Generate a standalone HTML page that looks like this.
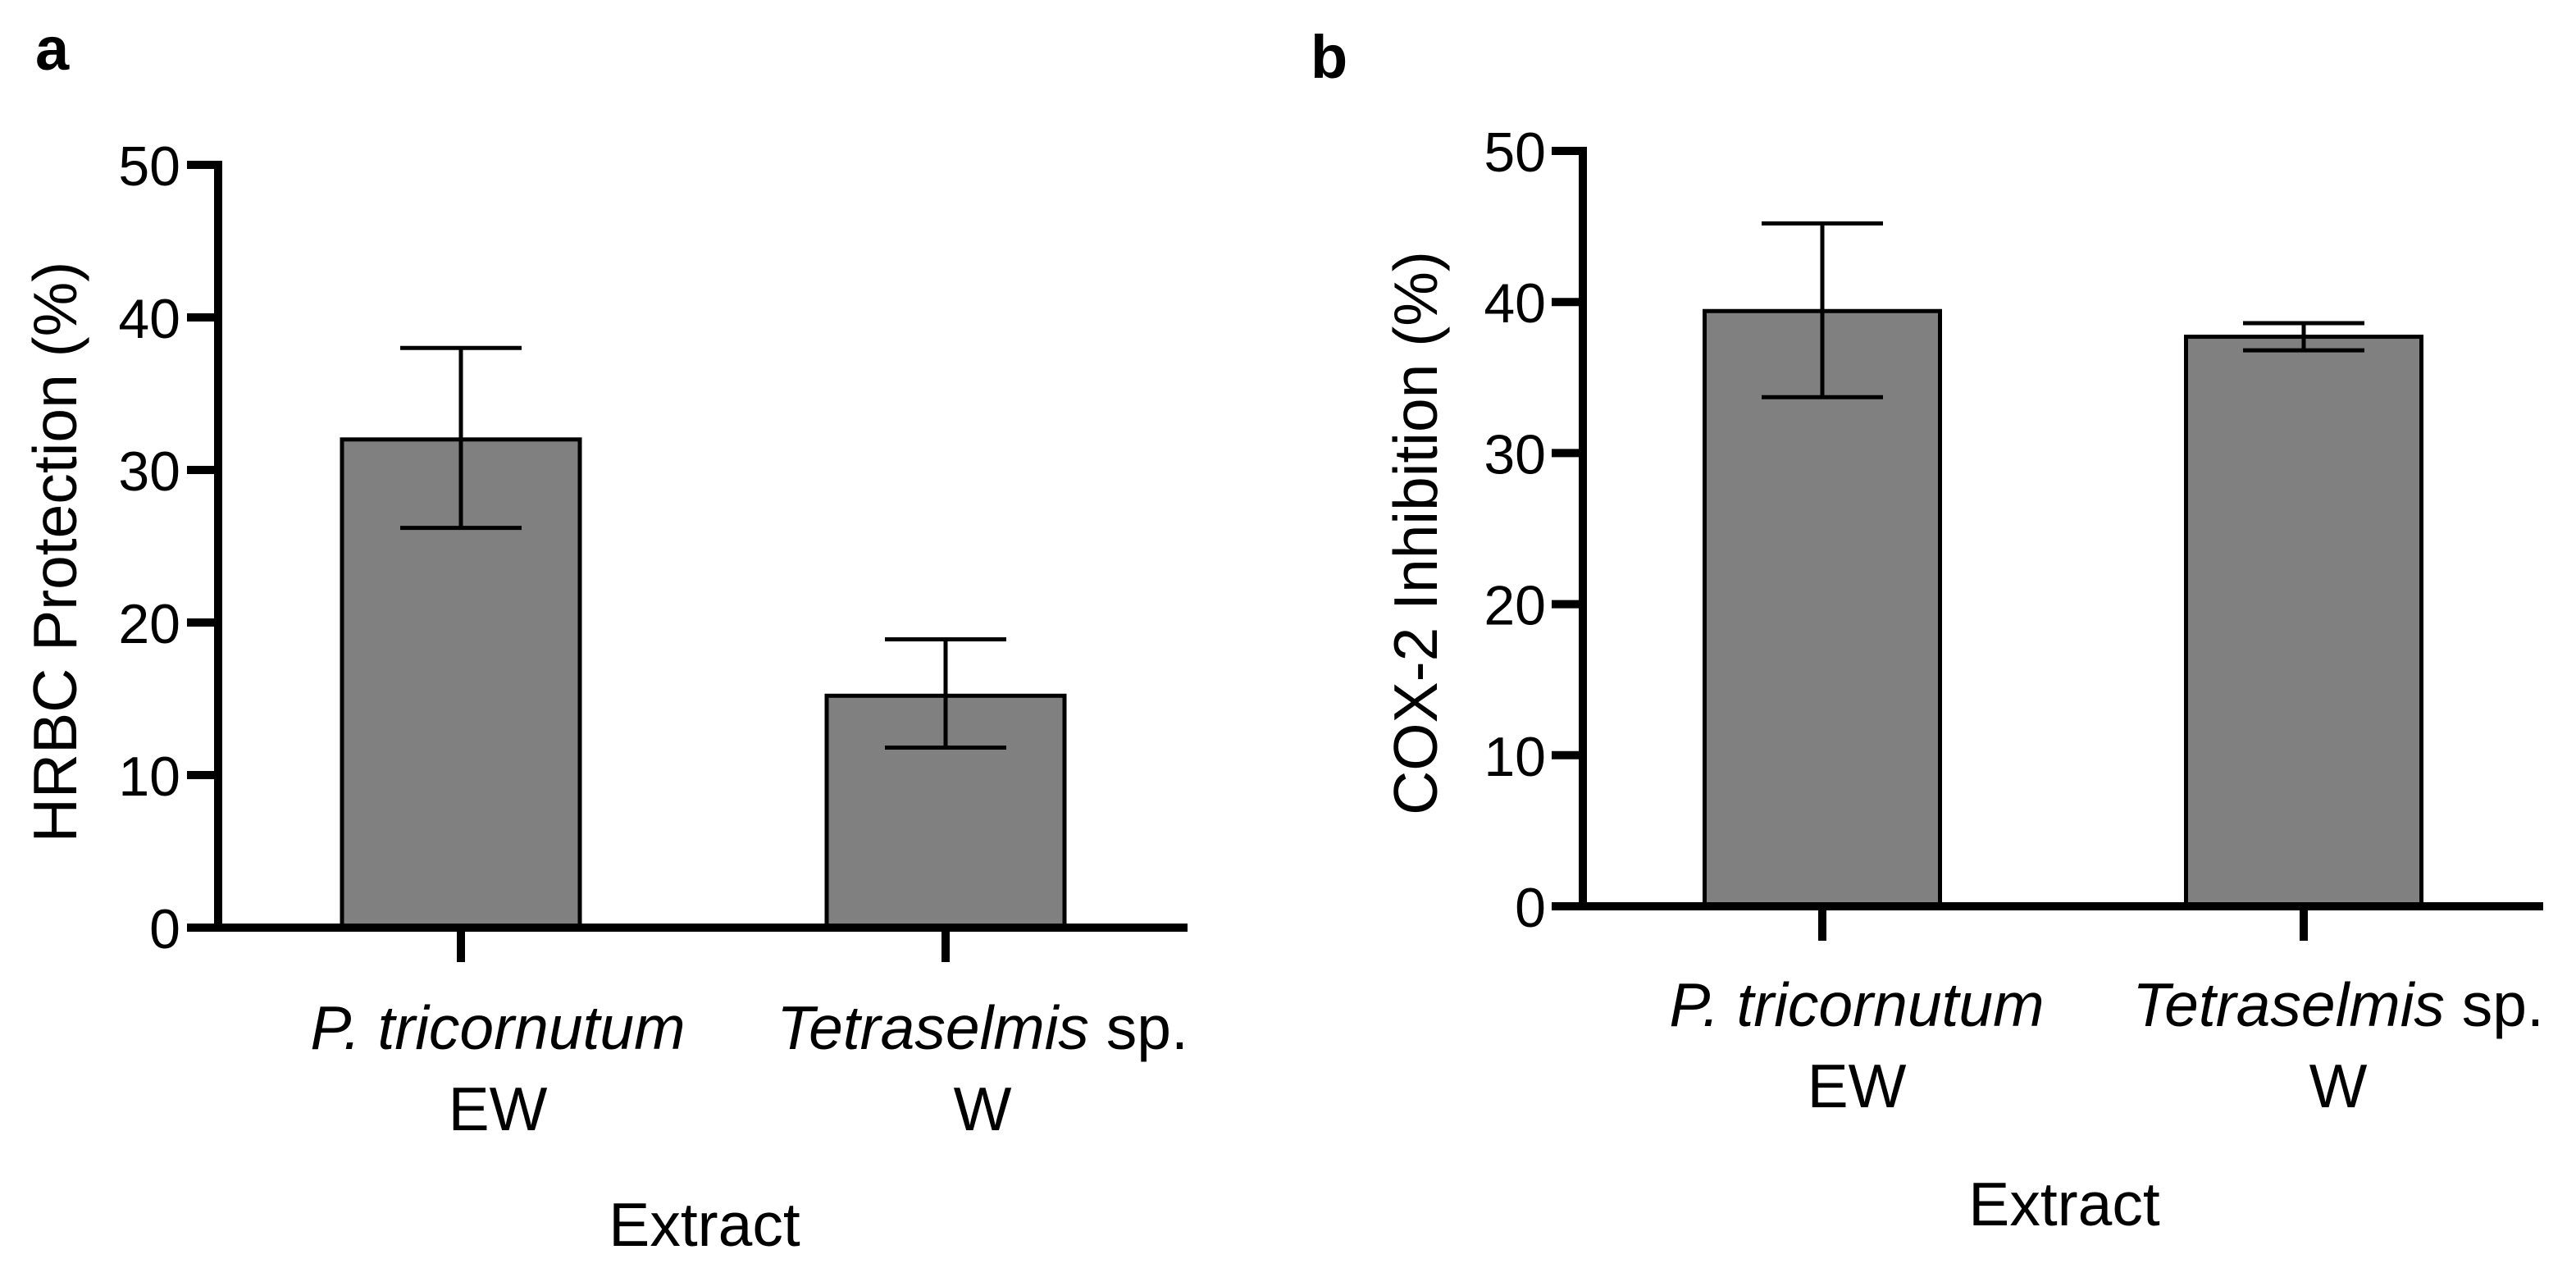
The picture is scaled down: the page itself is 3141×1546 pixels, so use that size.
<!DOCTYPE html>
<html><head><meta charset="utf-8">
<style>
html,body{margin:0;padding:0;background:#fff;}
svg{display:block;font-family:"Liberation Sans",Arial,sans-serif;}
</style></head>
<body>
<svg id="fig" width="3141" height="1546" viewBox="0 0 3141 1546" xmlns="http://www.w3.org/2000/svg">
<rect width="3141" height="1546" fill="#fff"/>
<text x="43" y="85" font-size="74" font-weight="bold">a</text>
<text x="1598" y="95" font-size="74" font-weight="bold">b</text>
</svg>
<script>
const categories = ["P. tricornutum|EW", "Tetraselmis sp.|W"];
const yTicks = [0, 10, 20, 30, 40, 50];
const hrbcMeans = [32.0, 15.2];
const hrbcErrUpper = [38.0, 18.9];
const hrbcErrLower = [26.2, 11.8];
const coxMeans = [39.4, 37.7];
const coxErrUpper = [45.2, 38.6];
const coxErrLower = [33.7, 36.8];

const svg = document.getElementById('fig');
const NS = 'http://www.w3.org/2000/svg';
function mk(tag, attrs, parent){
  const e = document.createElementNS(NS, tag);
  for (const k in attrs) e.setAttribute(k, attrs[k]);
  (parent||svg).appendChild(e);
  return e;
}

function panel(cfg, means, up, lo){
  const g = mk('g', {});
  
  
  const y = v => cfg.y0 - (v/50)*(cfg.y0-cfg.y50);
  means.forEach((m,i)=>{
    const cx = cfg.centers[i];
    const r = mk('rect', {x:cx-cfg.bw/2, y:y(m), width:cfg.bw, height:cfg.y0-y(m), fill:'#808080', stroke:'#000', 'stroke-width':5}, g);
    
    
    const eb = mk('g', {stroke:'#000','stroke-width':5,fill:'none'}, g);
    
    
    mk('line', {x1:cx, x2:cx, y1:y(up[i]), y2:y(lo[i])}, eb);
    mk('line', {x1:cx-74, x2:cx+74, y1:y(up[i]), y2:y(up[i])}, eb);
    mk('line', {x1:cx-74, x2:cx+74, y1:y(lo[i]), y2:y(lo[i])}, eb);
  });
  const ax = mk('g', {stroke:'#000','stroke-width':10}, g);
  
  
  mk('line', {x1:cfg.ax, x2:cfg.ax, y1:cfg.y50-5, y2:cfg.y0+5}, ax);
  mk('line', {x1:cfg.tickL, x2:cfg.xEnd, y1:cfg.y0, y2:cfg.y0}, ax);
  yTicks.forEach(t=>{
    mk('line', {x1:cfg.tickL, x2:cfg.ax, y1:y(t), y2:y(t)}, ax);
    const tl = mk('text', {x:cfg.tlX, y:y(t)+25, 'font-size':68, 'text-anchor':'end', fill:'#000'}, g);
    
    
    tl.textContent = t;
  });
  categories.forEach((c,i)=>{
    const cx = cfg.centers[i];
    mk('line', {x1:cx, x2:cx, y1:cfg.y0, y2:cfg.y0+42}, ax);
    const parts = c.split('|');
    const t1 = mk('text', {x:cx+cfg.lblShift, y:cfg.lab1, 'font-size':75, 'text-anchor':'middle', fill:'#000'}, g);
    
    
    if (i===0){
      const s = mk('tspan', {'font-style':'italic'}, t1); s.textContent = parts[0];
    } else {
      const s = mk('tspan', {'font-style':'italic'}, t1); s.textContent = 'Tetraselmis';
      const s2 = mk('tspan', {}, t1); s2.textContent = ' sp.';
    }
    const t2 = mk('text', {x:cx+cfg.lblShift, y:cfg.lab2, 'font-size':75, 'text-anchor':'middle', fill:'#000'}, g);
    
    
    t2.textContent = parts[1];
  });
  const xt = mk('text', {x:cfg.xtX, y:cfg.xtY, 'font-size':75, 'text-anchor':'middle', fill:'#000'}, g);
  
  
  xt.textContent = 'Extract';
  const yt = mk('text', {x:0, y:0, 'font-size':75, 'text-anchor':'middle', fill:'#000', transform:`translate(${cfg.ytX},${cfg.ytY}) rotate(-90)`}, g);
  
  
  yt.textContent = cfg.ytitle;
}

panel({name:'panel-a-hrbc', ax:266, tickL:228, tlX:220, y0:1131, y50:201, xEnd:1448, centers:[562,1153], bw:290,
  lab1:1279, lab2:1378, lblShift:45, xtX:859, xtY:1519, ytX:93, ytY:673, ytitle:'HRBC Protection (%)'},
  hrbcMeans, hrbcErrUpper, hrbcErrLower);
panel({name:'panel-b-cox2', ax:1930, tickL:1892, tlX:1885, y0:1105, y50:184, xEnd:3101, centers:[2222,2809], bw:287,
  lab1:1251, lab2:1350, lblShift:42, xtX:2517, xtY:1494, ytX:1752, ytY:650, ytitle:'COX-2 Inhibition (%)'},
  coxMeans, coxErrUpper, coxErrLower);
</script>
</body></html>
